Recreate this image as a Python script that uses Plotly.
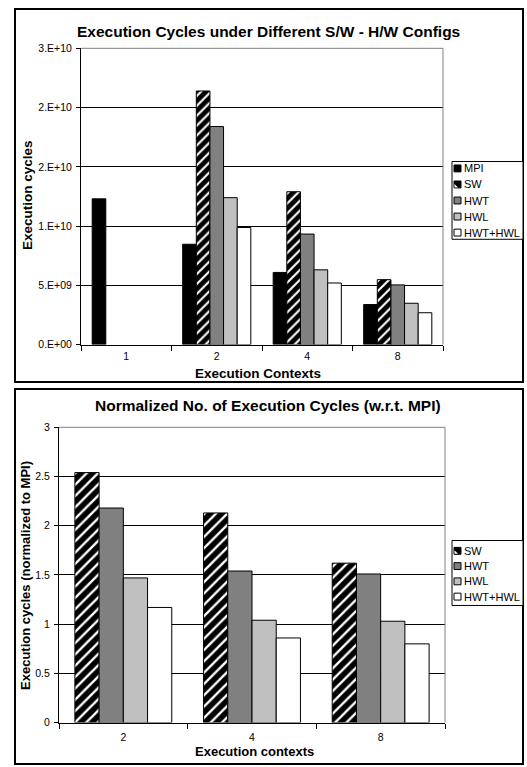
import plotly.graph_objects as go

W, H = 527, 767

# ---------------- data ----------------
SERIES_TOP = ["MPI", "SW", "HWT", "HWL", "HWT+HWL"]
CONTEXTS_TOP = ["1", "2", "4", "8"]
MPI = [12.3e9, 8.47e9, 6.09e9, 3.38e9]
SW = [None, 21.4e9, 12.9e9, 5.48e9]
HWT = [None, 18.4e9, 9.33e9, 5.04e9]
HWL = [None, 12.4e9, 6.31e9, 3.49e9]
HWT_HWL = [None, 9.88e9, 5.2e9, 2.69e9]
TOP_YTICKS = [0, 5e9, 1e10, 1.5e10, 2e10, 2.5e10]
TOP_YTICKTEXT = ["0.E+00", "5.E+09", "1.E+10", "2.E+10", "2.E+10", "3.E+10"]

SERIES_BOT = ["SW", "HWT", "HWL", "HWT+HWL"]
CONTEXTS_BOT = ["2", "4", "8"]
N_SW = [2.54, 2.13, 1.62]
N_HWT = [2.18, 1.54, 1.51]
N_HWL = [1.47, 1.04, 1.03]
N_HWT_HWL = [1.17, 0.86, 0.80]
BOT_YTICKS = [0, 0.5, 1, 1.5, 2, 2.5, 3]
BOT_YTICKTEXT = ["0", "0.5", "1", "1.5", "2", "2.5", "3"]

TOP_VALUES = [MPI, SW, HWT, HWL, HWT_HWL]
BOT_VALUES = [N_SW, N_HWT, N_HWL, N_HWT_HWL]

# ---------------- styles ----------------
FONT = "Liberation Sans, Arial, sans-serif"
FILL = {"MPI": "#000000", "SW": "#ffffff", "HWT": "#808080",
        "HWL": "#c0c0c0", "HWT+HWL": "#ffffff"}


def px(x):
    return x / W


def py(y):
    return 1 - y / H


def bar_marker(name, size):
    m = dict(color=FILL[name], line=dict(color="black", width=1))
    if name == "SW":
        m["pattern"] = dict(shape="/", fgcolor="black", bgcolor="white",
                            fgopacity=1, size=size, solidity=0.7)
    return m


fig = go.Figure()
for name, vals in zip(SERIES_TOP, TOP_VALUES):
    fig.add_trace(go.Bar(x=CONTEXTS_TOP, y=vals, name=name,
                         marker=bar_marker(name, 7), xaxis="x", yaxis="y",
                         showlegend=False))
for name, vals in zip(SERIES_BOT, BOT_VALUES):
    fig.add_trace(go.Bar(x=CONTEXTS_BOT, y=vals, name=name,
                         marker=bar_marker(name, 8), xaxis="x2", yaxis="y2",
                         showlegend=False))

tickfont = dict(family=FONT, size=10.5, color="black")
axis_common = dict(showline=True, linecolor="black", linewidth=1,
                   ticks="outside", tickcolor="black", tickfont=tickfont,
                   zeroline=False, fixedrange=True)

# plot-area pixel boxes
TOP = dict(l=81, r=443, t=43, b=344)
BOT = dict(l=59, r=445, t=428, b=728)

fig.update_layout(
    width=W, height=H, autosize=False,
    margin=dict(l=0, r=0, t=0, b=0),
    paper_bgcolor="white", plot_bgcolor="white",
    barmode="group", bargap=0.247, bargroupgap=0,
    showlegend=False,
    font=dict(family=FONT, color="black"),
    xaxis=dict(domain=[px(TOP["l"]), px(TOP["r"])], anchor="y",
               type="category", tickson="boundaries", ticklen=5,
               ticklabelstandoff=2, showgrid=False, **axis_common),
    yaxis=dict(domain=[py(TOP["b"]), py(TOP["t"])], anchor="x",
               range=[0, 2.5e10], tickvals=TOP_YTICKS, ticktext=TOP_YTICKTEXT,
               ticklen=4, ticklabelstandoff=2, showgrid=True, gridcolor="black",
               gridwidth=1, **axis_common),
    xaxis2=dict(domain=[px(BOT["l"]), px(BOT["r"])], anchor="y2",
                type="category", tickson="boundaries", ticklen=5,
                ticklabelstandoff=5, showgrid=False, **axis_common),
    yaxis2=dict(domain=[py(BOT["b"]), py(BOT["t"])], anchor="x2",
                range=[0, 3], tickvals=BOT_YTICKS, ticktext=BOT_YTICKTEXT,
                ticklen=4, ticklabelstandoff=2, showgrid=True, gridcolor="black",
                gridwidth=1, **axis_common),
)

shapes = []
annotations = []

# outer frames
for (x0, y0, x1, y1) in [(15, 3, 523, 382), (15, 389, 523, 770)]:
    shapes.append(dict(type="rect", xref="paper", yref="paper",
                       x0=px(x0), x1=px(x1), y0=py(y0), y1=py(y1),
                       line=dict(color="black", width=2), layer="above"))

# grey top/right edges of plot areas
for xr, yr in [("x domain", "y domain"), ("x2 domain", "y2 domain")]:
    shapes.append(dict(type="path", xref=xr, yref=yr,
                       path="M 0 1 L 1 1 L 1 0",
                       line=dict(color="#808080", width=1), layer="above"))

# titles
annotations.append(dict(text="<b>Execution Cycles under Different S/W - H/W Configs</b>",
                        x=px(268), y=py(26), xref="paper", yref="paper",
                        showarrow=False, xanchor="center", yanchor="middle",
                        font=dict(family=FONT, size=15.5, color="black")))
annotations.append(dict(text="<b>Normalized No. of Execution Cycles (w.r.t. MPI)</b>",
                        x=px(268), y=py(406), xref="paper", yref="paper",
                        showarrow=False, xanchor="center", yanchor="middle",
                        font=dict(family=FONT, size=15.5, color="black")))
# axis titles
annotations.append(dict(text="<b>Execution Contexts</b>", x=px(258), y=py(373),
                        xref="paper", yref="paper", showarrow=False,
                        xanchor="center", yanchor="middle",
                        font=dict(family=FONT, size=13.5, color="black")))
annotations.append(dict(text="<b>Execution cycles</b>", x=px(28), y=py(192),
                        xref="paper", yref="paper", showarrow=False, textangle=-90,
                        xanchor="center", yanchor="middle",
                        font=dict(family=FONT, size=13.5, color="black")))
annotations.append(dict(text="<b>Execution contexts</b>", x=px(254), y=py(757),
                        xref="paper", yref="paper", showarrow=False,
                        xanchor="center", yanchor="middle",
                        font=dict(family=FONT, size=13, color="black")))
annotations.append(dict(text="<b>Execution cycles (normalized to MPI)</b>", x=px(26), y=py(579),
                        xref="paper", yref="paper", showarrow=False, textangle=-90,
                        xanchor="center", yanchor="middle",
                        font=dict(family=FONT, size=13, color="black")))


# custom legends (Excel style: small swatch, compact box)
def legend(names, box, first_y, step):
    x0, y0, x1, y1 = box
    shapes.append(dict(type="rect", xref="paper", yref="paper",
                       x0=px(x0), x1=px(x1), y0=py(y0), y1=py(y1),
                       line=dict(color="black", width=1), fillcolor="white",
                       layer="above"))
    for i, name in enumerate(names):
        cy = first_y + i * step
        sx0, sx1 = x0 + 2, x0 + 9
        sy0, sy1 = cy - 3.5, cy + 3.5
        fill = "black" if name == "SW" else FILL[name]
        shapes.append(dict(type="rect", xref="paper", yref="paper",
                           x0=px(sx0), x1=px(sx1), y0=py(sy0), y1=py(sy1),
                           fillcolor=fill, line=dict(color="black", width=1),
                           layer="above"))
        if name == "SW":
            shapes.append(dict(type="path", xref="paper", yref="paper",
                               path=f"M {px(sx0+0.5)} {py(sy1-0.5)} L {px(sx0+0.5)} {py(sy0+3)} "
                                    f"L {px(sx1-3)} {py(sy1-0.5)} Z",
                               fillcolor="white", line=dict(width=0), layer="above"))
        annotations.append(dict(text=name, x=px(x0 + 10), y=py(cy), xref="paper",
                                yref="paper", showarrow=False, xanchor="left",
                                yanchor="middle",
                                font=dict(family=FONT, size=11, color="black")))


legend(SERIES_TOP, (452, 158, 523, 237), 165, 16.3)
legend(SERIES_BOT, (452, 543, 523, 609), 553.5, 15.5)

fig.update_layout(shapes=shapes, annotations=annotations)
fig.write_html("out.html", config={"displayModeBar": False})
